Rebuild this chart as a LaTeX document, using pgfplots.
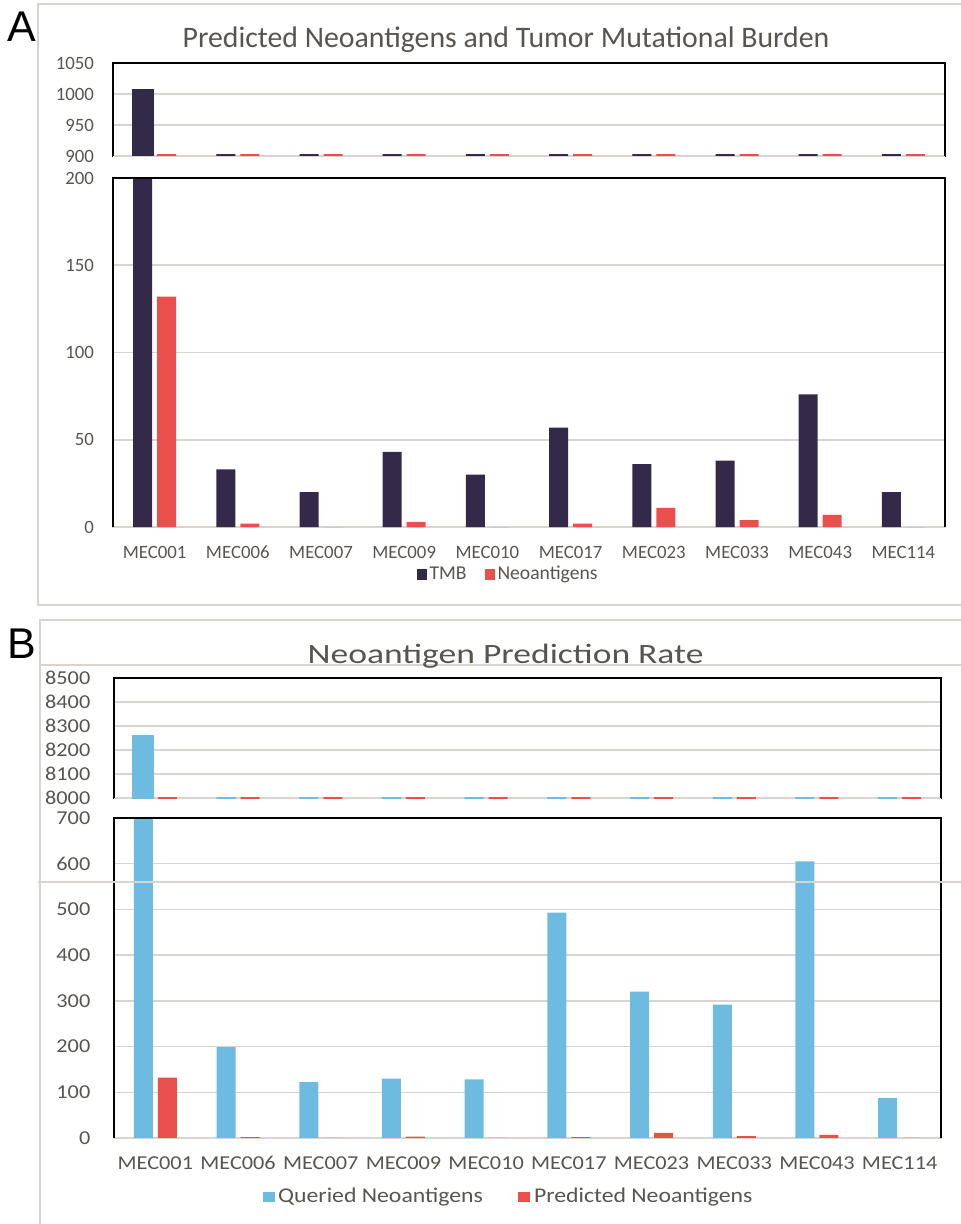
\documentclass[border=0pt]{standalone}
\usepackage{fontspec}
\setmainfont{Carlito}
\newfontfamily\labfont{Liberation Sans}
\newfontfamily\bfont[FakeStretch=1.13]{Carlito}
\newfontfamily\btitlefont[FakeStretch=1.27]{Carlito}
\usepackage{pgfplots}
\usepackage{pgfplotstable}
\pgfplotsset{compat=1.18}
\definecolor{tmb}{RGB}{50,42,72}
\definecolor{neo}{RGB}{233,80,76}
\definecolor{qry}{RGB}{110,187,226}
\definecolor{gridc}{RGB}{217,212,208}
\definecolor{txt}{RGB}{89,84,80}

\pgfplotstableread{
x tmb neo qry
0 1006 132 8256
1 33 2 199
2 20 0 122
3 43 3 130
4 30 0 128
5 57 2 493
6 36 11 320
7 38 4 292
8 76 7 605
9 20 0 87
}\data

\pgfplotsset{
  brk/.style={
    scale only axis, anchor=north west,
    ybar=2.5pt, bar width=9.5pt,
    xmin=-0.5, xmax=9.5, enlargelimits=false,
    major tick length=0pt,
    ymajorgrids, grid style={gridc, line width=0.75pt},
    /pgf/number format/1000 sep={},
    /pgf/number format/assume math mode=true,
    ticklabel style={text=txt},
    yticklabel style={anchor=east, inner sep=0pt},
  },
  topax/.style={brk, xtick=\empty,
    axis line style={draw=none},
    axis background/.style={draw=black, line width=1.1pt},
    after end axis/.code={\draw[black,line width=1.1pt] (rel axis cs:0,0) -- (rel axis cs:0,1) -- (rel axis cs:1,1) -- (rel axis cs:1,0);}},
  botax/.style={brk, xtick={0,...,9},
    xticklabels={MEC001,MEC006,MEC007,MEC009,MEC010,MEC017,MEC023,MEC033,MEC043,MEC114},
    xticklabel style={anchor=base, inner sep=0pt, yshift=-15.65pt},
    axis line style={draw=gridc, line width=0.75pt},
    after end axis/.code={\draw[black,line width=1pt] (rel axis cs:0,0) -- (rel axis cs:0,1) -- (rel axis cs:1,1) -- (rel axis cs:1,0);},
    legend columns=2,
    legend image code/.code={\fill[##1] (0pt,-2.7pt) rectangle (5pt,2.7pt);},
  },
}

\begin{document}
\begin{tikzpicture}
\useasboundingbox (0,0) rectangle (480pt,-612pt);
% frames
\draw[gridc, line width=1pt] (19pt,-2pt) rectangle (486pt,-302.5pt);
\draw[gridc, line width=1pt] (20pt,-616pt) -- (20pt,-310pt) -- (486pt,-310pt);
\draw[gridc, line width=1pt] (20pt,-332.5pt) -- (486pt,-332.5pt);
% panel labels
\node[anchor=base west, inner sep=0pt, font=\labfont\fontsize{21.5}{24}\selectfont] at (3.5pt,-21pt) {A};
\node[anchor=base west, inner sep=0pt, font=\labfont\fontsize{21.5}{24}\selectfont] at (3.5pt,-329pt) {B};
% titles
\node[anchor=base, inner sep=0pt, text=txt, font=\fontsize{14.9}{17}\selectfont] at (253pt,-24pt) {Predicted Neoantigens and Tumor Mutational Burden};
\node[anchor=base, inner sep=0pt, text=txt, font=\btitlefont\fontsize{14}{17}\selectfont] at (252.75pt,-331.5pt) {Neoantigen Prediction Rate};

% ---------- Panel A top ----------
\begin{axis}[topax, at={(56.5pt,-31.5pt)}, width=416pt, height=46.5pt,
  ymin=900, ymax=1050, ytick={900,950,1000,1050},
  ticklabel style={font=\fontsize{9.4}{11}\selectfont},
  yticklabel style={xshift=-9.35pt},
  y filter/.expression={y<900 ? 900 : y}]
\addplot[fill=tmb, draw=tmb, line width=1.5pt] table[x=x,y=tmb]{\data};
\addplot[fill=neo, draw=neo, line width=1.5pt] table[x=x,y=neo]{\data};
\end{axis}
% ---------- Panel A bottom ----------
\begin{axis}[botax, at={(56.5pt,-89pt)}, width=416pt, height=174.5pt,
  ymin=0, ymax=200, ytick={0,50,100,150,200},
  ticklabel style={font=\fontsize{9.4}{11}\selectfont},
  yticklabel style={xshift=-9.35pt},
  legend style={at={(0.4754,-0.136)}, anchor=center, draw=none, fill=none,
    font=\fontsize{9.8}{11}\selectfont, text=txt, inner sep=0pt,
    nodes={inner sep=1.5pt},
    /tikz/every even column/.append style={column sep=7.5pt}}]
\addplot[fill=tmb, draw=none] table[x=x,y=tmb]{\data};
\addplot[fill=neo, draw=none] table[x=x,y=neo]{\data};
\legend{TMB, Neoantigens}
\end{axis}

% ---------- Panel B top ----------
\begin{axis}[topax, at={(57pt,-339pt)}, width=413.5pt, height=60pt,
  ymin=8000, ymax=8500, ytick={8000,8100,8200,8300,8400,8500},
  ticklabel style={font=\bfont\fontsize{9.85}{11}\selectfont},
  yticklabel style={xshift=-11.65pt},
  y filter/.expression={y<8000 ? 8000 : y}]
\addplot[fill=qry, draw=qry, line width=1.5pt] table[x=x,y=qry]{\data};
\addplot[fill=neo, draw=neo, line width=1.5pt] table[x=x,y=neo]{\data};
\end{axis}
% ---------- Panel B bottom ----------
\begin{axis}[botax, at={(57pt,-409pt)}, width=413.5pt, height=160pt,
  ymin=0, ymax=700, ytick={0,100,...,700},
  ticklabel style={font=\bfont\fontsize{9.85}{11}\selectfont},
  yticklabel style={xshift=-11.65pt},
  legend image code/.code={\fill[#1] (0pt,-2.6pt) rectangle (6pt,2.6pt);},
  legend style={at={(0.478,-0.184)}, anchor=center, draw=none, fill=none,
    font=\bfont\fontsize{10.5}{12}\selectfont, text=txt, inner sep=0pt,
    nodes={inner sep=1.8pt},
    /tikz/every even column/.append style={column sep=16pt}}]
\addplot[fill=qry, draw=none] table[x=x,y=qry]{\data};
\addplot[fill=neo, draw=none] table[x=x,y=neo]{\data};
\legend{Queried Neoantigens, Predicted Neoantigens}
\end{axis}
\draw[gridc, line width=1pt] (19pt,-440.8pt) -- (486pt,-440.8pt);
\end{tikzpicture}
\end{document}
